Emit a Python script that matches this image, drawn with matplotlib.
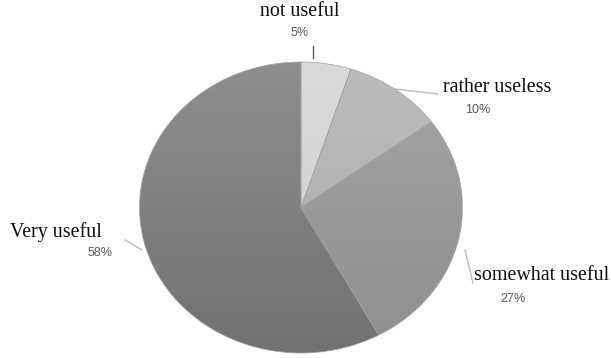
import numpy as np
import matplotlib
matplotlib.use("Agg")
import matplotlib.pyplot as plt
from matplotlib.colors import LinearSegmentedColormap

# data
labels = ["not useful", "rather useless", "somewhat useful", "Very useful"]
shares = [5, 10, 27, 58]
pct_text = ["5%", "10%", "27%", "58%"]
top_colors = ["#dadada", "#bcbcbc", "#a4a4a4", "#8e8e8e"]
bot_colors = ["#cfcfcf", "#a9a9a9", "#8f8f8f", "#727272"]

W, H = 611, 358
CX, CY, RX, RY = 301, 207.5, 161.5, 145.5

fig = plt.figure(figsize=(W / 100, H / 100), dpi=100)
ax = fig.add_axes([0, 0, 1, 1])

wedges, _ = ax.pie(shares, startangle=90, counterclock=False, radius=1,
                   wedgeprops=dict(linewidth=0.5, edgecolor="#a0a0a0"))
ax.set_aspect("auto")
ax.axis("off")

# vertical gradient inside each slice
grad = np.linspace(0, 1, 256).reshape(-1, 1)
for w, c0, c1 in zip(wedges, top_colors, bot_colors):
    cmap = LinearSegmentedColormap.from_list("g", [c0, c1])
    im = ax.imshow(grad, cmap=cmap, extent=(-1, 1, -1, 1), origin="upper",
                   aspect="auto", zorder=w.get_zorder() + 0.1)
    im.set_clip_path(w)
    w.set_facecolor("none")
    w.set_zorder(im.get_zorder() + 0.1)
ax.set_xlim(-CX / RX, (W - CX) / RX)
ax.set_ylim((CY - H) / RY, CY / RY)


def px(x, y):
    return x / W, 1 - y / H


serif = dict(family="Liberation Serif", fontsize=14.4, color="#0d0d0d")
small = dict(family="Liberation Sans", fontsize=9, color="#595959")

# label positions (pixels)
name_pos = [(300, 12, "center"), (443, 88, "left"), (474, 275, "left"), (10, 232, "left")]
pct_pos = [(300, 33, "center"), (478, 110, "center"), (513, 299, "center"), (100, 253, "center")]
leaders = [((313, 46), (313, 58), "#595959"),
           ((395, 89), (438, 94), "#bdbdbd"),
           ((465, 250), (473, 283), "#bdbdbd"),
           ((125, 240), (142, 250), "#bdbdbd")]

for lab, (x, y, ha) in zip(labels, name_pos):
    fig.text(*px(x, y), lab, ha=ha, va="center", **serif)
for t, (x, y, ha) in zip(pct_text, pct_pos):
    fig.text(*px(x, y), t, ha=ha, va="center", **small)
for p0, p1, col in leaders:
    a, b = px(*p0), px(*p1)
    fig.add_artist(plt.Line2D([a[0], b[0]], [a[1], b[1]], color=col, lw=1,
                              transform=fig.transFigure))

fig.savefig("out.png", dpi=100, facecolor="white")
